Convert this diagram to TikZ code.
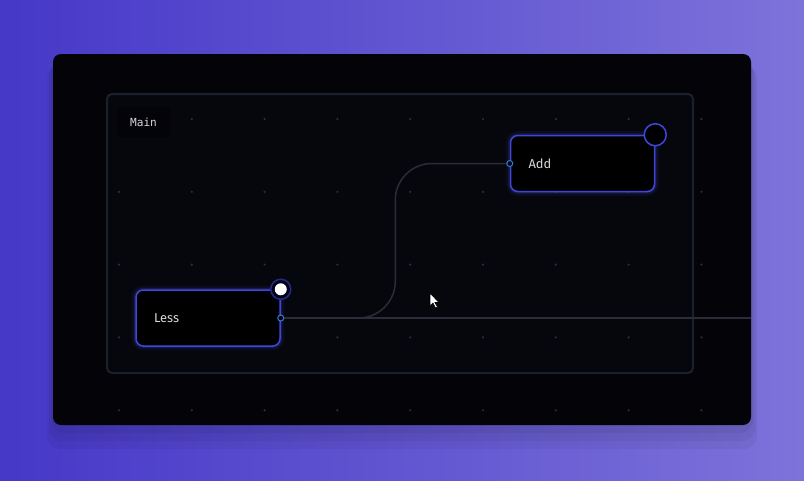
\documentclass[tikz,border=0pt]{standalone}
\usepackage{fontspec}
\setsansfont{Fira Sans}
\setmonofont{DejaVu Sans Mono}
\usetikzlibrary{calc}
\usetikzlibrary{positioning}

\definecolor{bgleft}{RGB}{70,56,200}
\definecolor{bgright}{RGB}{125,115,218}
\definecolor{panel}{RGB}{3,3,8}
\definecolor{framefill}{RGB}{6,6,13}
\definecolor{frameline}{RGB}{28,32,46}
\definecolor{dotgray}{RGB}{44,46,58}
\definecolor{nodeline}{RGB}{64,70,220}
\definecolor{glow}{RGB}{80,95,255}
\definecolor{portblue}{RGB}{45,125,225}
\definecolor{wiregray}{RGB}{44,44,56}
\definecolor{textgray}{RGB}{215,215,222}

\begin{document}
\begin{tikzpicture}[x=0.3mm,y=-0.3mm,
    opnode/.style={draw=nodeline, line width=0.45mm, fill=black, rounded corners=2.2mm,
      text width=32.4mm, inner xsep=5.4mm, minimum height=16.8mm, align=left,
      text=textgray, font=\sffamily\fontsize{11}{13}\selectfont,
      preaction={draw=glow, line width=2.6mm, opacity=0.07},
      preaction={draw=glow, line width=1.3mm, opacity=0.16}},
    port/.style={circle, draw=portblue, fill=black, line width=0.3mm, inner sep=0pt, minimum size=1.8mm},
    outring/.style={circle, draw=nodeline, fill=black, line width=0.45mm, inner sep=0pt},
    wire/.style={draw=wiregray, line width=0.45mm}]
    \useasboundingbox (0,0) rectangle (804,480);
    \shade[left color=bgleft, right color=bgright] (0,0) rectangle (804,480);
    %
    \foreach \d in {12,8,4}
      \fill[black, opacity=0.05, rounded corners=4mm] (53-\d/2,54+\d) rectangle (751+\d/2,425+2*\d);
    \fill[panel, rounded corners=2.4mm] (53,54) rectangle (751,425);
    \draw[frameline, fill=framefill, line width=0.6mm, rounded corners=1.5mm] (107,94) rectangle (693,373);
    \foreach \i in {0,...,8}
      \foreach \j in {0,...,4}
        \fill[dotgray] (119+72.8*\i, 119+72.8*\j) circle (1.2);
    \node[fill=panel, minimum width=15.9mm, minimum height=9mm, text=textgray,
      font=\ttfamily\fontsize{9.5}{11}\selectfont] (mainlbl) at (143.5,122) {Main};
    %
    \node[opnode] (add) at (582.5,163.5) {Add};
    \node[opnode] (less) at (208,318) {Less};
    \coordinate (addin) at (add.west);
    \coordinate (lessout) at (less.east);
    \coordinate (dragend) at (751,318);
    \draw[wire, rounded corners=11mm] (lessout) -| ($(lessout)!0.5!(addin)$) |- (addin);
    \draw[wire] (lessout) -- (dragend);
    \node[port] (addport) at (addin) {};
    \node[port] (lessport) at (lessout) {};
    \node[outring, minimum size=6.6mm] (addres) at (add.north east) {};
    \node[outring, draw=nodeline!60!black, fill=black!90!blue, minimum size=6mm] (lessres) at (less.north east) {};
    \fill[white] (lessres) circle (6);
    %
    \filldraw[fill=white, draw=black, line width=0.2mm, shift={(430,293)}]
      (0,0) -- (0,13) -- (3,10) -- (5.5,15) -- (7.5,14) -- (5,9.5) -- (9,9.5) -- cycle;
\end{tikzpicture}
\end{document}
